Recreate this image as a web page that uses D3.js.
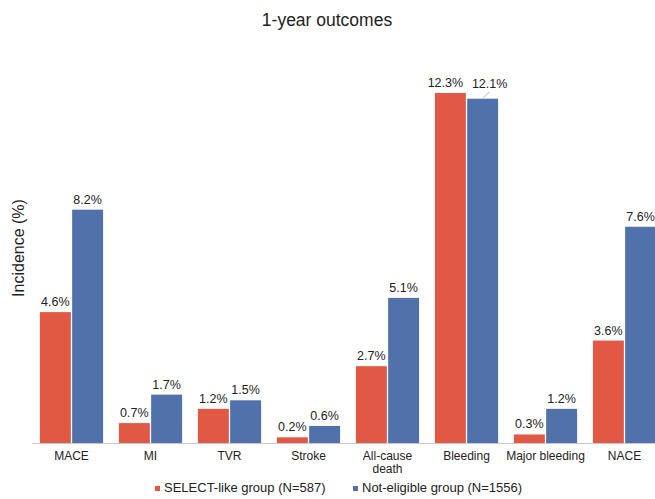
<!DOCTYPE html>
<html>
<head>
<meta charset="utf-8">
<script src="https://cdn.jsdelivr.net/npm/d3@7"></script>
<style>
body { margin: 0; background: #fff; }
svg { font-family: "Liberation Sans", Arial, Helvetica, sans-serif; display: block; }
</style>
</head>
<body>
<script>
//Width and height
var w = 655;
var h = 499;

//Data
var categories = ["MACE", "MI", "TVR", "Stroke", "All-cause\ndeath", "Bleeding", "Major bleeding", "NACE"];
var seriesNames = ["SELECT-like group (N=587)", "Not-eligible group (N=1556)"];
var selectLike = [4.6, 0.7, 1.2, 0.2, 2.7, 12.3, 0.3, 3.6];
var notEligible = [8.2, 1.7, 1.5, 0.6, 5.1, 12.1, 1.2, 7.6];
var colors = ["#e15845", "#5071a9"];

var baseY = 443;

//Scales (plot runs past the right edge, like the source)
var x0 = d3.scaleBand()
    .domain(categories)
    .range([32, 664])
    .paddingInner(0.2)
    .paddingOuter(0.1);

var x1 = d3.scaleBand()
    .domain([0, 1])
    .range([0, x0.bandwidth()])
    .paddingInner(0.04);

var y = d3.scaleLinear()
    .domain([0, 12.3])
    .range([baseY, 93]);

var svg = d3.select("body")
    .append("svg")
    .attr("width", w)
    .attr("height", h);

//Title
svg.append("text")
    .attr("x", 327)
    .attr("y", 26)
    .attr("text-anchor", "middle")
    .style("font-size", "17.5px")
    .style("fill", "#222")
    .text("1-year outcomes");

//Y axis title
svg.append("text")
    .attr("transform", "translate(24,248) rotate(-90)")
    .attr("text-anchor", "middle")
    .style("font-size", "16px")
    .style("fill", "#222")
    .text("Incidence (%)");

//Bars
var groups = svg.append("g")
    .selectAll("g")
    .data(categories)
    .enter()
    .append("g")
    .attr("transform", function (d) { return "translate(" + x0(d) + ",0)"; });

var rows = groups.selectAll("rect")
    .data(function (d, i) {
        return [{ s: 0, v: selectLike[i], i: i }, { s: 1, v: notEligible[i], i: i }];
    })
    .enter();

rows.append("rect")
    .attr("x", function (d) { return x1(d.s); })
    .attr("y", function (d) { return y(d.v); })
    .attr("width", x1.bandwidth())
    .attr("height", function (d) { return baseY - y(d.v); })
    .style("fill", function (d) { return colors[d.s]; });

//Value labels
rows.append("text")
    .attr("x", function (d) {
        var cx = x1(d.s) + x1.bandwidth() / 2;
        //Bleeding labels are nudged apart in the source
        if (d.i === 5) cx += d.s === 0 ? -5 : 7;
        return cx;
    })
    .attr("y", function (d) {
        if (d.i === 5 && d.s === 1) return y(d.v) - 11;
        return y(d.v) - 6;
    })
    .attr("text-anchor", "middle")
    .style("font-size", "12.5px")
    .style("fill", "#222")
    .text(function (d) { return d.v.toFixed(1) + "%"; });

//Leader line for the 12.1% label
var bleedCx = x0("Bleeding") + x1(1) + x1.bandwidth() / 2;
svg.append("line")
    .attr("x1", bleedCx + 7)
    .attr("y1", y(notEligible[5]) - 7)
    .attr("x2", bleedCx + 1)
    .attr("y2", y(notEligible[5]) - 1)
    .style("stroke", "#999")
    .style("stroke-width", 0.8);

//Baseline
svg.append("line")
    .attr("x1", 32)
    .attr("x2", w)
    .attr("y1", baseY + 0.5)
    .attr("y2", baseY + 0.5)
    .style("stroke", "#c8c8c8")
    .style("stroke-width", 1);

//Category labels
svg.append("g")
    .selectAll("text")
    .data(categories)
    .enter()
    .append("text")
    .attr("x", function (d) { return x0(d) + x0.bandwidth() / 2; })
    .attr("y", 460)
    .attr("text-anchor", "middle")
    .style("font-size", "12px")
    .style("fill", "#222")
    .each(function (d) {
        var lines = d.split("\n");
        var t = d3.select(this);
        lines.forEach(function (l, k) {
            t.append("tspan")
                .attr("x", t.attr("x"))
                .attr("dy", k === 0 ? 0 : 13)
                .text(l);
        });
    });

//Legend
var legendX = [155, 353];
var legend = svg.append("g")
    .selectAll("g")
    .data(seriesNames)
    .enter()
    .append("g")
    .attr("transform", function (d, i) { return "translate(" + legendX[i] + ",492)"; });

legend.append("rect")
    .attr("x", 0)
    .attr("y", -6)
    .attr("width", 5)
    .attr("height", 5)
    .style("fill", function (d, i) { return colors[i]; });

legend.append("text")
    .attr("x", 9)
    .attr("y", 0)
    .style("font-size", "13px")
    .style("fill", "#222")
    .text(function (d) { return d; });
</script>
</body>
</html>
